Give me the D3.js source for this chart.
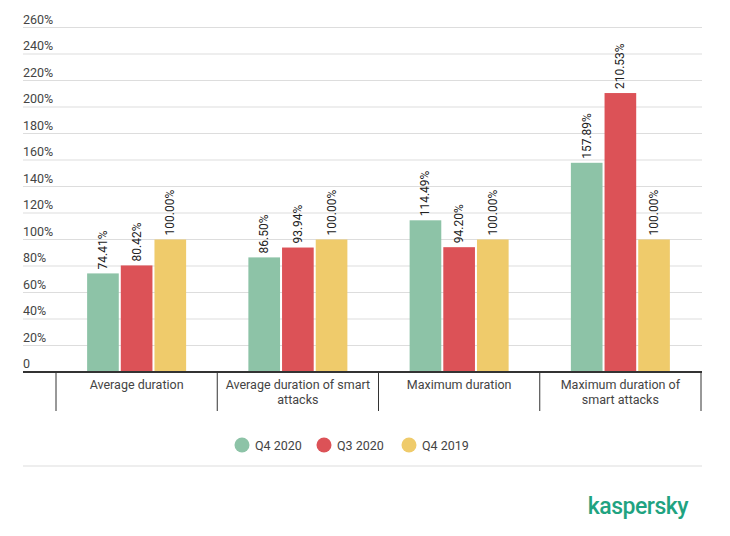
<!DOCTYPE html><html><head><meta charset="utf-8"><script src="https://cdn.jsdelivr.net/npm/d3@7"></script>
<style>body{margin:0;background:#fff}text{font-family:Roboto,sans-serif}</style></head><body><svg width="730" height="536"></svg>
<script>
const categories=[["Average duration"],["Average duration of smart","attacks"],["Maximum duration"],["Maximum duration of","smart attacks"]];
const seriesNames=["Q4 2020","Q3 2020","Q4 2019"];
const colors=["#8dc3a7","#dc5257","#efcb6b"];
const q4_2020=[74.41,86.50,114.49,157.89];
const q3_2020=[80.42,93.94,94.20,210.53];
const q4_2019=[100,100,100,100];
const ticks=[0,20,40,60,80,100,120,140,160,180,200,220,240,260];
const series=[q4_2020,q3_2020,q4_2019];
const svg=d3.select("svg");
const y=d3.scaleLinear().domain([0,260]).range([372,27.5]);
const x=d3.scaleBand().domain(d3.range(4)).range([56,701]);
const xs=d3.scaleBand().domain(d3.range(3)).range([0,99]).paddingInner(0.06);
svg.selectAll(".g").data(ticks).join("line").attr("x1",23).attr("x2",702).attr("y1",d=>y(d)).attr("y2",d=>y(d)).attr("stroke","#ddd");
svg.selectAll(".tl").data(ticks).join("text").attr("x",23).attr("y",d=>y(d)-4).attr("font-size",12.5).attr("fill","#444").text(d=>d?d+"%":"0");
series.forEach((s,si)=>{
 const g=svg.append("g");
 s.forEach((v,ci)=>{
  const bx=x(ci)+x.bandwidth()/2-49.5+xs(si);
  g.append("rect").attr("x",bx).attr("y",y(v)).attr("width",xs.bandwidth()).attr("height",y(0)-y(v)).attr("fill",colors[si]);
  g.append("text").attr("transform",`translate(${bx+xs.bandwidth()/2+4},${y(v)-4}) rotate(-90)`).attr("font-size",12).attr("fill","#222").text(v.toFixed(2)+"%");
 });
});
svg.append("line").attr("x1",23).attr("x2",702).attr("y1",372).attr("y2",372).attr("stroke","#333").attr("stroke-width",2);
[0,1,2,3,4].forEach(i=>{const xx=i<4?x(i):701;svg.append("line").attr("x1",xx).attr("x2",xx).attr("y1",372).attr("y2",411).attr("stroke","#333");});
categories.forEach((c,i)=>{c.forEach((t,j)=>svg.append("text").attr("x",x(i)+x.bandwidth()/2).attr("y",389+j*15).attr("text-anchor","middle").attr("font-size",12.5).attr("fill","#444").text(t));});
const lx=[242,324,409];
seriesNames.forEach((n,i)=>{svg.append("circle").attr("cx",lx[i]).attr("cy",445).attr("r",7.5).attr("fill",colors[i]);
 svg.append("text").attr("x",lx[i]+13).attr("y",449.5).attr("font-size",12.5).attr("fill","#444").text(n);});
svg.append("line").attr("x1",23).attr("x2",702).attr("y1",466).attr("y2",466).attr("stroke","#ddd");
svg.append("text").attr("x",688).attr("y",514).attr("text-anchor","end").attr("font-size",23).attr("font-weight",500).attr("fill","#1fa381").attr("letter-spacing","-0.5").text("kaspersky");
</script></body></html>
